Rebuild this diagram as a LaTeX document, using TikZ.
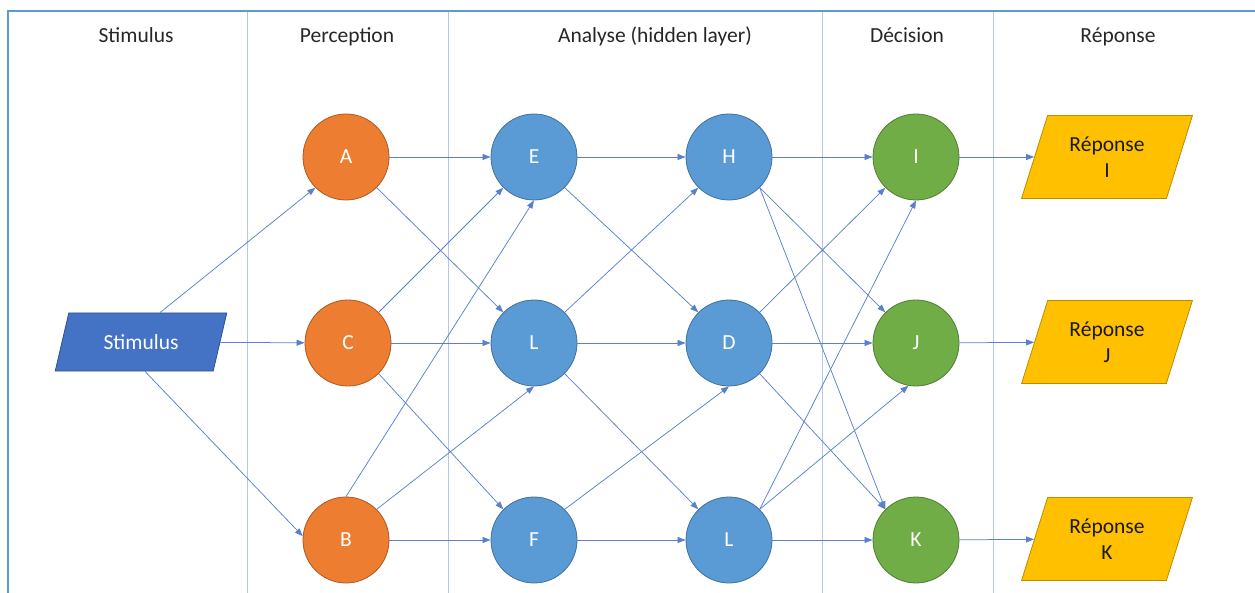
\documentclass[tikz,border=0pt]{standalone}
\usepackage{fontspec}
\setmainfont{Carlito}
\usetikzlibrary{arrows.meta,shapes.geometric}
\definecolor{cOr}{HTML}{ED7D31}
\definecolor{cOrB}{HTML}{AE5A21}
\definecolor{cBl}{HTML}{5B9BD5}
\definecolor{cBlB}{HTML}{41719C}
\definecolor{cGr}{HTML}{70AD47}
\definecolor{cGrB}{HTML}{507E32}
\definecolor{cGo}{HTML}{FFC000}
\definecolor{cGoB}{HTML}{BC8C00}
\definecolor{cSt}{HTML}{4472C4}
\definecolor{cStB}{HTML}{2F528F}
\definecolor{cLn}{HTML}{5A80CC}
\definecolor{cCol}{HTML}{B4C7E7}
\definecolor{cTop}{HTML}{5B9BD5}
\begin{document}
\begin{tikzpicture}[x=1pt,y=-1pt,
  txt/.style={font=\fontsize{21.5}{26}\selectfont},
  hdr/.style={txt, text=black!85, inner sep=0pt, anchor=base},
  circ/.style={circle, minimum size=86pt, inner sep=0pt, line width=0.8pt, text=white, txt},
  orn/.style={circ, fill=cOr, draw=cOrB},
  blu/.style={circ, fill=cBl, draw=cBlB},
  grn/.style={circ, fill=cGr, draw=cGrB},
  para/.style={trapezium, trapezium stretches=true, inner sep=0pt, line width=0.8pt, txt, align=center},
  conn/.style={draw=cLn, line width=0.75pt, -{Triangle[length=8pt,width=6pt]}},
  colline/.style={draw=cCol, line width=1pt},
  frame/.style={draw=cTop, line width=2.5pt}
]
\useasboundingbox (0,0) rectangle (1255,593);
% frame and columns
\draw[frame] (8,593) -- (8,11) -- (1255,11);
\foreach \x in {247,448,822,993} \draw[colline] (\x,12) -- (\x,593);
% headers
\node[hdr] (h1) at (136,43) {Stimulus};
\node[hdr] (h2) at (347,43) {Perception};
\node[hdr] (h3) at (655,43) {Analyse (hidden layer)};
\node[hdr] (h4) at (907,43) {Décision};
\node[hdr] (h5) at (1118,43) {Réponse};
% nodes
\node[para, fill=cSt, draw=cStB, text=white, minimum width=172pt, minimum height=58pt,
      trapezium left angle=65, trapezium right angle=115] (stim) at (141,342) {Stimulus};
\node[orn] (A) at (346,157) {A};
\node[orn] (C) at (348,343) {C};
\node[orn] (B) at (346,540) {B};
\node[blu] (E) at (534,157) {E};
\node[blu] (L1) at (534,343) {L};
\node[blu] (F) at (534,540) {F};
\node[blu] (H) at (729,157) {H};
\node[blu] (D) at (729,343) {D};
\node[blu] (L2) at (729,540) {L};
\node[grn] (I) at (916,157) {I};
\node[grn] (J) at (916,343) {J};
\node[grn] (K) at (916,540) {K};
\node[para, fill=cGo, draw=cGoB, text=black!90, minimum width=171pt, minimum height=83pt,
      trapezium left angle=68, trapezium right angle=112] (RI) at (1107,157) {Réponse\\I};
\node[para, fill=cGo, draw=cGoB, text=black!90, minimum width=171pt, minimum height=83pt,
      trapezium left angle=68, trapezium right angle=112] (RJ) at (1107,342) {Réponse\\J};
\node[para, fill=cGo, draw=cGoB, text=black!90, minimum width=171pt, minimum height=83pt,
      trapezium left angle=68, trapezium right angle=112] (RK) at (1107,539) {Réponse\\K};
% connectors
\draw[conn] ([xshift=19pt]stim.north) -- (A.south west);
\draw[conn] (stim) -- (C);
\draw[conn] ([xshift=4pt]stim.south) -- (B.175);
\draw[conn] (A) -- (E);
\draw[conn] (A.south east) -- (L1.north west);
\draw[conn] (C.north east) -- (E.south west);
\draw[conn] (C) -- (L1);
\draw[conn] (C.south east) -- (F.north west);
\draw[conn] (B.north) -- (E.south);
\draw[conn] (B.north east) -- (L1.south);
\draw[conn] (B) -- (F);
\draw[conn] (E) -- (H);
\draw[conn] (E.south east) -- (D.north west);
\draw[conn] (L1.north east) -- (H.south west);
\draw[conn] (L1) -- (D);
\draw[conn] (L1.south east) -- (L2.north west);
\draw[conn] (F.north east) -- (D.south);
\draw[conn] (F) -- (L2);
\draw[conn] (H) -- (I);
\draw[conn] (H.south east) -- (J.north west);
\draw[conn] (H.south east) -- (K.north west);
\draw[conn] (D.north east) -- (I.south west);
\draw[conn] (D) -- (J);
\draw[conn] (D.south east) -- (K.north west);
\draw[conn] (L2.north east) -- (I.south);
\draw[conn] (L2.north east) -- (J.-100);
\draw[conn] (L2) -- (K);
\draw[conn] (I) -- (RI);
\draw[conn] (J) -- (RJ);
\draw[conn] (K) -- (RK);
\end{tikzpicture}
\end{document}
